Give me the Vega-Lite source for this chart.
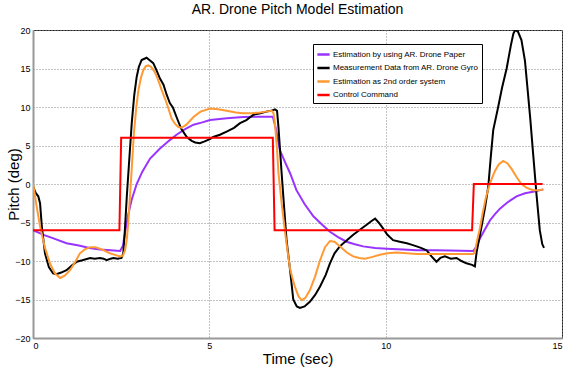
{
  "$schema": "https://vega.github.io/schema/vega-lite/v6.json",
  "width": 529,
  "height": 308,
  "autosize": {"type": "none"},
  "padding": {"left": 33, "top": 30, "right": 4, "bottom": 31},
  "background": "white",
  "title": {"text": "AR. Drone Pitch Model Estimation", "font": "Liberation Sans", "fontSize": 14, "fontWeight": "normal", "color": "#000", "offset": 9, "anchor": "middle"},
  "config": {
    "view": {"stroke": "#222", "strokeWidth": 1},
    "axis": {"labelFont": "Liberation Sans", "labelFontSize": 9, "labelColor": "#000", "titleFont": "Liberation Sans", "titleFontSize": 15, "titleFontWeight": "normal", "titleColor": "#000", "gridColor": "#888", "gridDash": [1, 2], "gridWidth": 1, "gridOpacity": 1, "domainColor": "#999", "domainWidth": 2, "ticks": false, "labelPadding": 3}
  },
  "data": {"values": [
    {"s": "Estimation by using AR. Drone Paper", "t": 0, "v": -6},
    {"s": "Estimation by using AR. Drone Paper", "t": 0.3, "v": -6.6},
    {"s": "Estimation by using AR. Drone Paper", "t": 0.6, "v": -7.1},
    {"s": "Estimation by using AR. Drone Paper", "t": 0.95, "v": -7.7},
    {"s": "Estimation by using AR. Drone Paper", "t": 1.3, "v": -8.0},
    {"s": "Estimation by using AR. Drone Paper", "t": 1.6, "v": -8.3},
    {"s": "Estimation by using AR. Drone Paper", "t": 1.9, "v": -8.5},
    {"s": "Estimation by using AR. Drone Paper", "t": 2.2, "v": -8.6},
    {"s": "Estimation by using AR. Drone Paper", "t": 2.47, "v": -8.7},
    {"s": "Estimation by using AR. Drone Paper", "t": 2.55, "v": -8.0},
    {"s": "Estimation by using AR. Drone Paper", "t": 2.62, "v": -6.0},
    {"s": "Estimation by using AR. Drone Paper", "t": 2.7, "v": -4.0},
    {"s": "Estimation by using AR. Drone Paper", "t": 2.8, "v": -2.0},
    {"s": "Estimation by using AR. Drone Paper", "t": 2.94, "v": 0.0},
    {"s": "Estimation by using AR. Drone Paper", "t": 3.1, "v": 1.6},
    {"s": "Estimation by using AR. Drone Paper", "t": 3.32, "v": 3.3},
    {"s": "Estimation by using AR. Drone Paper", "t": 3.6, "v": 4.6},
    {"s": "Estimation by using AR. Drone Paper", "t": 3.88, "v": 5.7},
    {"s": "Estimation by using AR. Drone Paper", "t": 4.07, "v": 6.4},
    {"s": "Estimation by using AR. Drone Paper", "t": 4.3, "v": 7.1},
    {"s": "Estimation by using AR. Drone Paper", "t": 4.55, "v": 7.7},
    {"s": "Estimation by using AR. Drone Paper", "t": 4.8, "v": 8.0},
    {"s": "Estimation by using AR. Drone Paper", "t": 5.02, "v": 8.3},
    {"s": "Estimation by using AR. Drone Paper", "t": 5.5, "v": 8.55},
    {"s": "Estimation by using AR. Drone Paper", "t": 5.96, "v": 8.7},
    {"s": "Estimation by using AR. Drone Paper", "t": 6.4, "v": 8.75},
    {"s": "Estimation by using AR. Drone Paper", "t": 6.8, "v": 8.75},
    {"s": "Estimation by using AR. Drone Paper", "t": 6.88, "v": 7.3},
    {"s": "Estimation by using AR. Drone Paper", "t": 7.0, "v": 4.4},
    {"s": "Estimation by using AR. Drone Paper", "t": 7.15, "v": 2.8},
    {"s": "Estimation by using AR. Drone Paper", "t": 7.29, "v": 1.4},
    {"s": "Estimation by using AR. Drone Paper", "t": 7.47, "v": -0.8},
    {"s": "Estimation by using AR. Drone Paper", "t": 7.7, "v": -2.6},
    {"s": "Estimation by using AR. Drone Paper", "t": 7.95, "v": -4.2},
    {"s": "Estimation by using AR. Drone Paper", "t": 8.2, "v": -5.3},
    {"s": "Estimation by using AR. Drone Paper", "t": 8.42, "v": -6.2},
    {"s": "Estimation by using AR. Drone Paper", "t": 8.65, "v": -6.9},
    {"s": "Estimation by using AR. Drone Paper", "t": 8.89, "v": -7.5},
    {"s": "Estimation by using AR. Drone Paper", "t": 9.1, "v": -7.8},
    {"s": "Estimation by using AR. Drone Paper", "t": 9.36, "v": -8.1},
    {"s": "Estimation by using AR. Drone Paper", "t": 9.7, "v": -8.3},
    {"s": "Estimation by using AR. Drone Paper", "t": 10.03, "v": -8.4},
    {"s": "Estimation by using AR. Drone Paper", "t": 10.5, "v": -8.5},
    {"s": "Estimation by using AR. Drone Paper", "t": 10.88, "v": -8.6},
    {"s": "Estimation by using AR. Drone Paper", "t": 11.4, "v": -8.6},
    {"s": "Estimation by using AR. Drone Paper", "t": 11.8, "v": -8.65},
    {"s": "Estimation by using AR. Drone Paper", "t": 12.48, "v": -8.7},
    {"s": "Estimation by using AR. Drone Paper", "t": 12.58, "v": -8.1},
    {"s": "Estimation by using AR. Drone Paper", "t": 12.67, "v": -7.1},
    {"s": "Estimation by using AR. Drone Paper", "t": 12.8, "v": -6.0},
    {"s": "Estimation by using AR. Drone Paper", "t": 12.96, "v": -4.7},
    {"s": "Estimation by using AR. Drone Paper", "t": 13.1, "v": -3.9},
    {"s": "Estimation by using AR. Drone Paper", "t": 13.24, "v": -3.2},
    {"s": "Estimation by using AR. Drone Paper", "t": 13.45, "v": -2.4},
    {"s": "Estimation by using AR. Drone Paper", "t": 13.71, "v": -1.6},
    {"s": "Estimation by using AR. Drone Paper", "t": 13.95, "v": -1.2},
    {"s": "Estimation by using AR. Drone Paper", "t": 14.18, "v": -1.0},
    {"s": "Estimation by using AR. Drone Paper", "t": 14.47, "v": -0.7},

    {"s": "Measurement Data from AR. Drone Gyro", "t": 0, "v": -0.3},
    {"s": "Measurement Data from AR. Drone Gyro", "t": 0.08, "v": -1.2},
    {"s": "Measurement Data from AR. Drone Gyro", "t": 0.15, "v": -1.6},
    {"s": "Measurement Data from AR. Drone Gyro", "t": 0.2, "v": -2.5},
    {"s": "Measurement Data from AR. Drone Gyro", "t": 0.25, "v": -5.5},
    {"s": "Measurement Data from AR. Drone Gyro", "t": 0.34, "v": -9.0},
    {"s": "Measurement Data from AR. Drone Gyro", "t": 0.45, "v": -10.8},
    {"s": "Measurement Data from AR. Drone Gyro", "t": 0.57, "v": -11.6},
    {"s": "Measurement Data from AR. Drone Gyro", "t": 0.66, "v": -11.7},
    {"s": "Measurement Data from AR. Drone Gyro", "t": 0.8, "v": -11.5},
    {"s": "Measurement Data from AR. Drone Gyro", "t": 0.95, "v": -11.2},
    {"s": "Measurement Data from AR. Drone Gyro", "t": 1.1, "v": -10.6},
    {"s": "Measurement Data from AR. Drone Gyro", "t": 1.24, "v": -10.1},
    {"s": "Measurement Data from AR. Drone Gyro", "t": 1.4, "v": -9.9},
    {"s": "Measurement Data from AR. Drone Gyro", "t": 1.62, "v": -9.6},
    {"s": "Measurement Data from AR. Drone Gyro", "t": 1.75, "v": -9.7},
    {"s": "Measurement Data from AR. Drone Gyro", "t": 1.9, "v": -9.6},
    {"s": "Measurement Data from AR. Drone Gyro", "t": 2.0, "v": -9.7},
    {"s": "Measurement Data from AR. Drone Gyro", "t": 2.09, "v": -9.9},
    {"s": "Measurement Data from AR. Drone Gyro", "t": 2.2, "v": -9.7},
    {"s": "Measurement Data from AR. Drone Gyro", "t": 2.28, "v": -9.6},
    {"s": "Measurement Data from AR. Drone Gyro", "t": 2.4, "v": -9.7},
    {"s": "Measurement Data from AR. Drone Gyro", "t": 2.51, "v": -9.6},
    {"s": "Measurement Data from AR. Drone Gyro", "t": 2.56, "v": -9.0},
    {"s": "Measurement Data from AR. Drone Gyro", "t": 2.6, "v": -6.4},
    {"s": "Measurement Data from AR. Drone Gyro", "t": 2.66, "v": -1.6},
    {"s": "Measurement Data from AR. Drone Gyro", "t": 2.72, "v": 2.5},
    {"s": "Measurement Data from AR. Drone Gyro", "t": 2.8, "v": 7.9},
    {"s": "Measurement Data from AR. Drone Gyro", "t": 2.87, "v": 11.5},
    {"s": "Measurement Data from AR. Drone Gyro", "t": 2.94, "v": 13.9},
    {"s": "Measurement Data from AR. Drone Gyro", "t": 3.0, "v": 15.2},
    {"s": "Measurement Data from AR. Drone Gyro", "t": 3.08, "v": 16.1},
    {"s": "Measurement Data from AR. Drone Gyro", "t": 3.22, "v": 16.4},
    {"s": "Measurement Data from AR. Drone Gyro", "t": 3.3, "v": 16.1},
    {"s": "Measurement Data from AR. Drone Gyro", "t": 3.41, "v": 15.7},
    {"s": "Measurement Data from AR. Drone Gyro", "t": 3.5, "v": 14.8},
    {"s": "Measurement Data from AR. Drone Gyro", "t": 3.6, "v": 13.7},
    {"s": "Measurement Data from AR. Drone Gyro", "t": 3.7, "v": 12.9},
    {"s": "Measurement Data from AR. Drone Gyro", "t": 3.79, "v": 11.6},
    {"s": "Measurement Data from AR. Drone Gyro", "t": 3.88, "v": 10.5},
    {"s": "Measurement Data from AR. Drone Gyro", "t": 3.97, "v": 9.9},
    {"s": "Measurement Data from AR. Drone Gyro", "t": 4.07, "v": 8.7},
    {"s": "Measurement Data from AR. Drone Gyro", "t": 4.2, "v": 7.2},
    {"s": "Measurement Data from AR. Drone Gyro", "t": 4.36, "v": 6.1},
    {"s": "Measurement Data from AR. Drone Gyro", "t": 4.5, "v": 5.6},
    {"s": "Measurement Data from AR. Drone Gyro", "t": 4.6, "v": 5.4},
    {"s": "Measurement Data from AR. Drone Gyro", "t": 4.73, "v": 5.3},
    {"s": "Measurement Data from AR. Drone Gyro", "t": 4.85, "v": 5.5},
    {"s": "Measurement Data from AR. Drone Gyro", "t": 5.0, "v": 5.8},
    {"s": "Measurement Data from AR. Drone Gyro", "t": 5.11, "v": 6.1},
    {"s": "Measurement Data from AR. Drone Gyro", "t": 5.3, "v": 6.4},
    {"s": "Measurement Data from AR. Drone Gyro", "t": 5.49, "v": 6.8},
    {"s": "Measurement Data from AR. Drone Gyro", "t": 5.7, "v": 7.3},
    {"s": "Measurement Data from AR. Drone Gyro", "t": 5.87, "v": 7.9},
    {"s": "Measurement Data from AR. Drone Gyro", "t": 6.05, "v": 8.3},
    {"s": "Measurement Data from AR. Drone Gyro", "t": 6.25, "v": 9.0},
    {"s": "Measurement Data from AR. Drone Gyro", "t": 6.45, "v": 9.2},
    {"s": "Measurement Data from AR. Drone Gyro", "t": 6.62, "v": 9.4},
    {"s": "Measurement Data from AR. Drone Gyro", "t": 6.75, "v": 9.5},
    {"s": "Measurement Data from AR. Drone Gyro", "t": 6.86, "v": 9.7},
    {"s": "Measurement Data from AR. Drone Gyro", "t": 6.92, "v": 9.5},
    {"s": "Measurement Data from AR. Drone Gyro", "t": 6.96, "v": 7.4},
    {"s": "Measurement Data from AR. Drone Gyro", "t": 7.05, "v": 1.4},
    {"s": "Measurement Data from AR. Drone Gyro", "t": 7.12, "v": -3.0},
    {"s": "Measurement Data from AR. Drone Gyro", "t": 7.19, "v": -7.3},
    {"s": "Measurement Data from AR. Drone Gyro", "t": 7.29, "v": -11.2},
    {"s": "Measurement Data from AR. Drone Gyro", "t": 7.38, "v": -15.0},
    {"s": "Measurement Data from AR. Drone Gyro", "t": 7.48, "v": -15.9},
    {"s": "Measurement Data from AR. Drone Gyro", "t": 7.57, "v": -16.1},
    {"s": "Measurement Data from AR. Drone Gyro", "t": 7.7, "v": -15.9},
    {"s": "Measurement Data from AR. Drone Gyro", "t": 7.85, "v": -15.3},
    {"s": "Measurement Data from AR. Drone Gyro", "t": 8.0, "v": -14.4},
    {"s": "Measurement Data from AR. Drone Gyro", "t": 8.14, "v": -13.3},
    {"s": "Measurement Data from AR. Drone Gyro", "t": 8.3, "v": -11.8},
    {"s": "Measurement Data from AR. Drone Gyro", "t": 8.42, "v": -10.3},
    {"s": "Measurement Data from AR. Drone Gyro", "t": 8.55, "v": -9.0},
    {"s": "Measurement Data from AR. Drone Gyro", "t": 8.7, "v": -8.1},
    {"s": "Measurement Data from AR. Drone Gyro", "t": 8.9, "v": -7.3},
    {"s": "Measurement Data from AR. Drone Gyro", "t": 9.08, "v": -6.6},
    {"s": "Measurement Data from AR. Drone Gyro", "t": 9.25, "v": -6.0},
    {"s": "Measurement Data from AR. Drone Gyro", "t": 9.46, "v": -5.3},
    {"s": "Measurement Data from AR. Drone Gyro", "t": 9.6, "v": -4.8},
    {"s": "Measurement Data from AR. Drone Gyro", "t": 9.7, "v": -4.5},
    {"s": "Measurement Data from AR. Drone Gyro", "t": 9.8, "v": -5.0},
    {"s": "Measurement Data from AR. Drone Gyro", "t": 9.93, "v": -5.8},
    {"s": "Measurement Data from AR. Drone Gyro", "t": 10.05, "v": -6.6},
    {"s": "Measurement Data from AR. Drone Gyro", "t": 10.21, "v": -7.3},
    {"s": "Measurement Data from AR. Drone Gyro", "t": 10.4, "v": -7.5},
    {"s": "Measurement Data from AR. Drone Gyro", "t": 10.6, "v": -7.7},
    {"s": "Measurement Data from AR. Drone Gyro", "t": 10.75, "v": -7.9},
    {"s": "Measurement Data from AR. Drone Gyro", "t": 10.88, "v": -8.1},
    {"s": "Measurement Data from AR. Drone Gyro", "t": 11.0, "v": -8.3},
    {"s": "Measurement Data from AR. Drone Gyro", "t": 11.16, "v": -8.6},
    {"s": "Measurement Data from AR. Drone Gyro", "t": 11.3, "v": -9.4},
    {"s": "Measurement Data from AR. Drone Gyro", "t": 11.44, "v": -10.1},
    {"s": "Measurement Data from AR. Drone Gyro", "t": 11.55, "v": -9.6},
    {"s": "Measurement Data from AR. Drone Gyro", "t": 11.68, "v": -9.4},
    {"s": "Measurement Data from AR. Drone Gyro", "t": 11.85, "v": -9.7},
    {"s": "Measurement Data from AR. Drone Gyro", "t": 12.01, "v": -9.6},
    {"s": "Measurement Data from AR. Drone Gyro", "t": 12.15, "v": -10.0},
    {"s": "Measurement Data from AR. Drone Gyro", "t": 12.29, "v": -10.3},
    {"s": "Measurement Data from AR. Drone Gyro", "t": 12.45, "v": -10.5},
    {"s": "Measurement Data from AR. Drone Gyro", "t": 12.53, "v": -10.7},
    {"s": "Measurement Data from AR. Drone Gyro", "t": 12.58, "v": -8.8},
    {"s": "Measurement Data from AR. Drone Gyro", "t": 12.72, "v": -5.5},
    {"s": "Measurement Data from AR. Drone Gyro", "t": 12.82, "v": -3.0},
    {"s": "Measurement Data from AR. Drone Gyro", "t": 12.91, "v": -0.3},
    {"s": "Measurement Data from AR. Drone Gyro", "t": 12.98, "v": 3.5},
    {"s": "Measurement Data from AR. Drone Gyro", "t": 13.05, "v": 7.0},
    {"s": "Measurement Data from AR. Drone Gyro", "t": 13.19, "v": 10.0},
    {"s": "Measurement Data from AR. Drone Gyro", "t": 13.3, "v": 12.5},
    {"s": "Measurement Data from AR. Drone Gyro", "t": 13.43, "v": 15.0},
    {"s": "Measurement Data from AR. Drone Gyro", "t": 13.55, "v": 18.0},
    {"s": "Measurement Data from AR. Drone Gyro", "t": 13.62, "v": 19.5},
    {"s": "Measurement Data from AR. Drone Gyro", "t": 13.67, "v": 20.0},
    {"s": "Measurement Data from AR. Drone Gyro", "t": 13.75, "v": 19.8},
    {"s": "Measurement Data from AR. Drone Gyro", "t": 13.85, "v": 18.7},
    {"s": "Measurement Data from AR. Drone Gyro", "t": 13.95, "v": 16.0},
    {"s": "Measurement Data from AR. Drone Gyro", "t": 14.04, "v": 11.5},
    {"s": "Measurement Data from AR. Drone Gyro", "t": 14.1, "v": 8.5},
    {"s": "Measurement Data from AR. Drone Gyro", "t": 14.18, "v": 4.0},
    {"s": "Measurement Data from AR. Drone Gyro", "t": 14.28, "v": -1.5},
    {"s": "Measurement Data from AR. Drone Gyro", "t": 14.37, "v": -6.0},
    {"s": "Measurement Data from AR. Drone Gyro", "t": 14.44, "v": -7.8},
    {"s": "Measurement Data from AR. Drone Gyro", "t": 14.49, "v": -8.3},

    {"s": "Estimation as 2nd order system", "t": 0, "v": 0.1},
    {"s": "Estimation as 2nd order system", "t": 0.1, "v": -2.8},
    {"s": "Estimation as 2nd order system", "t": 0.2, "v": -5.5},
    {"s": "Estimation as 2nd order system", "t": 0.34, "v": -8.3},
    {"s": "Estimation as 2nd order system", "t": 0.48, "v": -10.3},
    {"s": "Estimation as 2nd order system", "t": 0.62, "v": -11.6},
    {"s": "Estimation as 2nd order system", "t": 0.77, "v": -12.2},
    {"s": "Estimation as 2nd order system", "t": 0.9, "v": -11.9},
    {"s": "Estimation as 2nd order system", "t": 1.05, "v": -11.2},
    {"s": "Estimation as 2nd order system", "t": 1.2, "v": -10.1},
    {"s": "Estimation as 2nd order system", "t": 1.33, "v": -9.0},
    {"s": "Estimation as 2nd order system", "t": 1.47, "v": -8.5},
    {"s": "Estimation as 2nd order system", "t": 1.62, "v": -8.2},
    {"s": "Estimation as 2nd order system", "t": 1.76, "v": -8.2},
    {"s": "Estimation as 2nd order system", "t": 1.9, "v": -8.4},
    {"s": "Estimation as 2nd order system", "t": 2.05, "v": -8.7},
    {"s": "Estimation as 2nd order system", "t": 2.18, "v": -9.0},
    {"s": "Estimation as 2nd order system", "t": 2.32, "v": -9.2},
    {"s": "Estimation as 2nd order system", "t": 2.47, "v": -9.4},
    {"s": "Estimation as 2nd order system", "t": 2.55, "v": -9.3},
    {"s": "Estimation as 2nd order system", "t": 2.61, "v": -8.6},
    {"s": "Estimation as 2nd order system", "t": 2.66, "v": -7.2},
    {"s": "Estimation as 2nd order system", "t": 2.7, "v": -5.1},
    {"s": "Estimation as 2nd order system", "t": 2.8, "v": 2.0},
    {"s": "Estimation as 2nd order system", "t": 2.86, "v": 6.5},
    {"s": "Estimation as 2nd order system", "t": 2.93, "v": 10.0},
    {"s": "Estimation as 2nd order system", "t": 2.99, "v": 12.2},
    {"s": "Estimation as 2nd order system", "t": 3.06, "v": 13.8},
    {"s": "Estimation as 2nd order system", "t": 3.13, "v": 14.8},
    {"s": "Estimation as 2nd order system", "t": 3.2, "v": 15.3},
    {"s": "Estimation as 2nd order system", "t": 3.27, "v": 15.4},
    {"s": "Estimation as 2nd order system", "t": 3.35, "v": 15.2},
    {"s": "Estimation as 2nd order system", "t": 3.46, "v": 14.5},
    {"s": "Estimation as 2nd order system", "t": 3.55, "v": 13.5},
    {"s": "Estimation as 2nd order system", "t": 3.65, "v": 12.2},
    {"s": "Estimation as 2nd order system", "t": 3.75, "v": 11.0},
    {"s": "Estimation as 2nd order system", "t": 3.84, "v": 9.8},
    {"s": "Estimation as 2nd order system", "t": 3.93, "v": 8.5},
    {"s": "Estimation as 2nd order system", "t": 4.03, "v": 7.8},
    {"s": "Estimation as 2nd order system", "t": 4.12, "v": 7.4},
    {"s": "Estimation as 2nd order system", "t": 4.21, "v": 7.3},
    {"s": "Estimation as 2nd order system", "t": 4.35, "v": 7.7},
    {"s": "Estimation as 2nd order system", "t": 4.55, "v": 8.7},
    {"s": "Estimation as 2nd order system", "t": 4.75, "v": 9.4},
    {"s": "Estimation as 2nd order system", "t": 5.02, "v": 9.8},
    {"s": "Estimation as 2nd order system", "t": 5.25, "v": 9.7},
    {"s": "Estimation as 2nd order system", "t": 5.49, "v": 9.5},
    {"s": "Estimation as 2nd order system", "t": 5.75, "v": 9.3},
    {"s": "Estimation as 2nd order system", "t": 5.96, "v": 9.2},
    {"s": "Estimation as 2nd order system", "t": 6.2, "v": 9.2},
    {"s": "Estimation as 2nd order system", "t": 6.44, "v": 9.3},
    {"s": "Estimation as 2nd order system", "t": 6.6, "v": 9.4},
    {"s": "Estimation as 2nd order system", "t": 6.77, "v": 9.5},
    {"s": "Estimation as 2nd order system", "t": 6.82, "v": 9.2},
    {"s": "Estimation as 2nd order system", "t": 6.86, "v": 7.9},
    {"s": "Estimation as 2nd order system", "t": 6.92, "v": 4.5},
    {"s": "Estimation as 2nd order system", "t": 6.96, "v": 1.4},
    {"s": "Estimation as 2nd order system", "t": 7.05, "v": -2.5},
    {"s": "Estimation as 2nd order system", "t": 7.14, "v": -6.0},
    {"s": "Estimation as 2nd order system", "t": 7.22, "v": -8.8},
    {"s": "Estimation as 2nd order system", "t": 7.29, "v": -11.0},
    {"s": "Estimation as 2nd order system", "t": 7.36, "v": -12.3},
    {"s": "Estimation as 2nd order system", "t": 7.43, "v": -13.4},
    {"s": "Estimation as 2nd order system", "t": 7.53, "v": -14.6},
    {"s": "Estimation as 2nd order system", "t": 7.62, "v": -15.1},
    {"s": "Estimation as 2nd order system", "t": 7.72, "v": -14.8},
    {"s": "Estimation as 2nd order system", "t": 7.85, "v": -13.8},
    {"s": "Estimation as 2nd order system", "t": 8.0, "v": -12.0},
    {"s": "Estimation as 2nd order system", "t": 8.14, "v": -9.9},
    {"s": "Estimation as 2nd order system", "t": 8.28, "v": -8.2},
    {"s": "Estimation as 2nd order system", "t": 8.42, "v": -7.4},
    {"s": "Estimation as 2nd order system", "t": 8.55, "v": -7.5},
    {"s": "Estimation as 2nd order system", "t": 8.7, "v": -8.1},
    {"s": "Estimation as 2nd order system", "t": 8.9, "v": -8.9},
    {"s": "Estimation as 2nd order system", "t": 9.08, "v": -9.4},
    {"s": "Estimation as 2nd order system", "t": 9.25, "v": -9.6},
    {"s": "Estimation as 2nd order system", "t": 9.41, "v": -9.7},
    {"s": "Estimation as 2nd order system", "t": 9.6, "v": -9.5},
    {"s": "Estimation as 2nd order system", "t": 9.84, "v": -9.2},
    {"s": "Estimation as 2nd order system", "t": 10.05, "v": -9.0},
    {"s": "Estimation as 2nd order system", "t": 10.31, "v": -8.9},
    {"s": "Estimation as 2nd order system", "t": 10.6, "v": -9.0},
    {"s": "Estimation as 2nd order system", "t": 10.88, "v": -9.1},
    {"s": "Estimation as 2nd order system", "t": 11.3, "v": -9.1},
    {"s": "Estimation as 2nd order system", "t": 11.82, "v": -9.1},
    {"s": "Estimation as 2nd order system", "t": 12.2, "v": -9.1},
    {"s": "Estimation as 2nd order system", "t": 12.48, "v": -9.1},
    {"s": "Estimation as 2nd order system", "t": 12.53, "v": -8.8},
    {"s": "Estimation as 2nd order system", "t": 12.6, "v": -7.2},
    {"s": "Estimation as 2nd order system", "t": 12.67, "v": -5.8},
    {"s": "Estimation as 2nd order system", "t": 12.75, "v": -3.8},
    {"s": "Estimation as 2nd order system", "t": 12.84, "v": -1.8},
    {"s": "Estimation as 2nd order system", "t": 12.91, "v": -0.6},
    {"s": "Estimation as 2nd order system", "t": 13.0, "v": 0.6},
    {"s": "Estimation as 2nd order system", "t": 13.1, "v": 1.7},
    {"s": "Estimation as 2nd order system", "t": 13.2, "v": 2.5},
    {"s": "Estimation as 2nd order system", "t": 13.33, "v": 3.0},
    {"s": "Estimation as 2nd order system", "t": 13.45, "v": 2.7},
    {"s": "Estimation as 2nd order system", "t": 13.58, "v": 1.9},
    {"s": "Estimation as 2nd order system", "t": 13.71, "v": 0.9},
    {"s": "Estimation as 2nd order system", "t": 13.85, "v": 0.0},
    {"s": "Estimation as 2nd order system", "t": 14.0, "v": -0.5},
    {"s": "Estimation as 2nd order system", "t": 14.18, "v": -0.8},
    {"s": "Estimation as 2nd order system", "t": 14.33, "v": -0.8},
    {"s": "Estimation as 2nd order system", "t": 14.47, "v": -0.7},

    {"s": "Control Command", "t": 0, "v": -6},
    {"s": "Control Command", "t": 2.45, "v": -6},
    {"s": "Control Command", "t": 2.5, "v": 6},
    {"s": "Control Command", "t": 6.8, "v": 6},
    {"s": "Control Command", "t": 6.85, "v": -6},
    {"s": "Control Command", "t": 12.45, "v": -6},
    {"s": "Control Command", "t": 12.5, "v": 0},
    {"s": "Control Command", "t": 14.45, "v": 0}
  ]},
  "mark": {"type": "line", "strokeWidth": 2, "clip": true},
  "encoding": {
    "x": {"field": "t", "type": "quantitative", "scale": {"domain": [0, 15], "nice": false, "zero": false}, "axis": {"title": "Time (sec)", "values": [0, 5, 10, 15], "titlePadding": 1, "labelFlush": true}},
    "y": {"field": "v", "type": "quantitative", "scale": {"domain": [-20, 20], "nice": false}, "axis": {"title": "Pitch (deg)", "values": [-20, -15, -10, -5, 0, 5, 10, 15, 20], "titleX": -12, "titleY": 154, "titleAngle": -90, "titleAlign": "center", "titleBaseline": "bottom", "labelFlush": false}},
    "color": {"field": "s", "type": "nominal", "sort": null,
      "scale": {"domain": ["Estimation by using AR. Drone Paper", "Measurement Data from AR. Drone Gyro", "Estimation as 2nd order system", "Control Command"], "range": ["#9933FF", "#000000", "#FF9933", "#FF0000"]},
      "legend": {"title": null, "orient": "none", "legendX": 280, "legendY": 14, "symbolType": "stroke", "symbolSize": 150, "symbolStrokeWidth": 2.5, "labelFont": "Liberation Sans", "labelFontSize": 8, "labelColor": "#000", "labelLimit": 300, "rowPadding": 0.5, "padding": 3, "strokeColor": "#000", "fillColor": "#fff", "labelOffset": 2, "symbolOffset": 0}
    },
    "order": {"field": "t", "type": "quantitative"}
  }
}
